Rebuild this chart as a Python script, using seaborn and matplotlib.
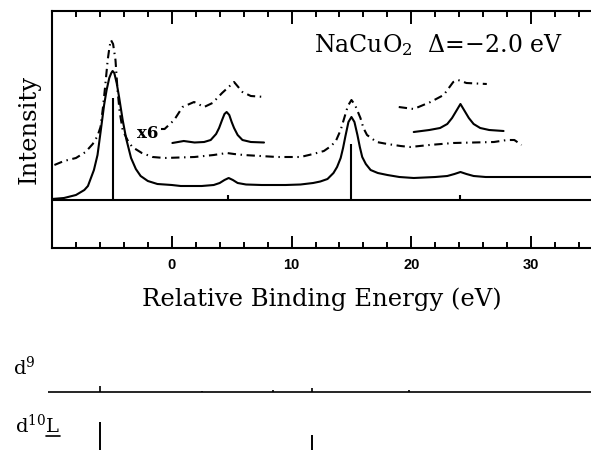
import numpy as np
import pandas as pd
import matplotlib
matplotlib.use("Agg")
import matplotlib.pyplot as plt
import seaborn as sns
from matplotlib.ticker import MultipleLocator
from matplotlib.lines import Line2D

# ---------------- data ----------------
# main solid spectrum
solid_x = [-10, -9, -8, -7.3, -7.0, -6.5, -6.2, -5.9, -5.65, -5.44, -5.22, -5.05, -4.94,
           -4.8, -4.6, -4.4, -4.1, -3.8, -3.4, -3.0, -2.6, -2.0, -1.2, 0, 0.75, 2.5, 3.5,
           4.0, 4.4, 4.75, 5.1, 5.5, 6.2, 7.5, 9.5, 10.75, 11.8, 12.4, 13.0, 13.5, 13.8,
           14.1, 14.3, 14.5, 14.75, 15.0, 15.25, 15.5, 15.7, 15.9, 16.2, 16.6, 17.2, 18,
           19, 20.2, 22, 23.0, 23.6, 24.1, 24.6, 25.2, 26.2, 30, 35]
solid_y = [1, 2, 5, 10, 14, 30, 45, 72, 95, 110, 122, 127, 129,
           127, 117, 103, 80, 61, 42, 31, 24, 19, 16, 15, 14, 14, 15,
           17, 20, 22, 20, 17, 15.5, 15, 15, 15.5, 17, 18.5, 21, 27, 33,
           42, 52, 64, 78, 83, 78, 65, 53, 43, 36, 30, 27, 25,
           23, 22, 23, 24, 26, 28, 26, 24, 23, 23, 23]
# main dash-dot spectrum
dash_x = [-9.8, -9, -8, -7.2, -6.6, -6.2, -5.95, -5.75, -5.55, -5.35, -5.2, -5.08, -4.9,
          -4.7, -4.53, -4.35, -4.1, -3.7, -3.3, -2.5, -1.6, -0.6, 1.9, 3.5, 4.6, 5.2,
          6.0, 8.8, 10.75, 11.8, 12.7, 13.3, 13.7, 14.1, 14.4, 14.7, 15.0, 15.3, 15.75,
          16.0, 16.3, 17.1, 18, 19.1, 19.9, 21.5, 23.5, 26.9, 28.0, 28.6, 29.2]
dash_y = [35, 39, 42, 48, 56, 64, 73, 92, 115, 140, 153, 160, 156,
          140, 110, 88, 70, 60, 53, 47, 43, 42, 43, 45, 47, 46,
          45, 43, 43, 46, 49, 54, 59, 70, 82, 94, 100, 95, 82,
          72, 65, 58, 56, 54, 53, 55, 57, 58, 60, 60, 55]
# x6 insets
inset1_solid_x = [0.05, 1.0, 1.9, 2.7, 3.25, 3.7, 3.95, 4.2, 4.4, 4.58, 4.8, 5.0, 5.2,
                  5.5, 5.9, 6.6, 7.7]
inset1_solid_y = [57, 59, 57.5, 58, 60, 66, 72, 80, 86, 88, 85, 78, 72,
                  65, 60, 58, 57.5]
inset1_dash_x = [-0.9, -0.6, 0.2, 0.9, 1.86, 2.7, 3.4, 4.2, 5.2, 5.9, 6.6, 7.8]
inset1_dash_y = [71, 71, 80, 93, 98, 93, 97, 107, 118, 108, 104, 103]
inset2_solid_x = [20.2, 21.5, 22.4, 23.0, 23.4, 23.8, 24.1, 24.4, 24.8, 25.2, 25.75,
                  26.5, 27.7]
inset2_solid_y = [68, 70, 72, 76, 82, 90, 96, 90, 82, 76, 72, 70, 69]
inset2_dash_x = [18.95, 20.2, 21.6, 22.7, 23.5, 23.9, 24.6, 26.3]
inset2_dash_y = [93, 91, 98, 105, 118, 120, 117, 116]
# final-state sticks
stick_x = [-4.9, 4.7, 15.0, 24.1]
stick_h = [102, 5, 56, 5]
# configuration weights (lower panel)
d9_x = [-4.9, 4.7, 11.4, 15.0, 24.1]
d9_h = [6, 1.5, 2, 4, 2]
d10L_x = [-4.9, 15.0]
d10L_h = [48, 35]
xticks = [0, 10, 20, 30]

# ---------------- style ----------------
sns.set_theme(style="white")
plt.rcParams['font.family'] = ['DejaVu Serif']
plt.rcParams['mathtext.fontset'] = 'dejavuserif'
plt.rcParams['text.color'] = 'black'
plt.rcParams['axes.labelcolor'] = 'black'
plt.rcParams['xtick.color'] = 'black'

W, H = 591, 450
fig = plt.figure(figsize=(W / 100, H / 100), dpi=100)
fig.patch.set_facecolor('white')
ax = fig.add_axes([52 / W, (H - 248) / H, (W - 52) / W, 237 / H])
ax.set_facecolor('white')

LW = 1.5
DD = (0, (4.0, 2.2, 0.7, 2.2))

def draw(x, y, ls):
    sns.lineplot(x=x, y=y, ax=ax, color='black', lw=LW, linestyle=ls,
                 sort=False, estimator=None)

draw(solid_x, solid_y, '-')
draw(dash_x, dash_y, DD)
draw(inset1_solid_x, inset1_solid_y, '-')
draw(inset1_dash_x, inset1_dash_y, DD)
draw(inset2_solid_x, inset2_solid_y, '-')
draw(inset2_dash_x, inset2_dash_y, DD)

ax.axhline(0, color='black', lw=LW)
ax.vlines(stick_x, 0, stick_h, color='black', lw=LW)

ax.set_xlim(-10, 35)
ax.set_ylim(-48, 189)
ax.set_xticks(xticks)
ax.xaxis.set_minor_locator(MultipleLocator(2))
ax.set_yticks([])
ax.tick_params(axis='x', which='both', direction='in', top=True, bottom=True,
               color='black', width=1.4)
ax.tick_params(axis='x', which='major', length=9, pad=7)
ax.tick_params(axis='x', which='minor', length=4)
for lab in ax.get_xticklabels():
    lab.set_fontfamily('Liberation Sans')
    lab.set_fontweight('bold')
    lab.set_fontsize(10.5)
for s in ['left', 'top', 'bottom']:
    ax.spines[s].set_color('black')
    ax.spines[s].set_linewidth(LW)
ax.spines['right'].set_visible(False)

ax.set_xlabel('Relative Binding Energy (eV)', fontsize=17.5, labelpad=11)
ax.set_ylabel('Intensity', fontsize=17.5, labelpad=8)
ax.text(22.25, 155, r'NaCuO$_2$  $\Delta$=−2.0 eV', fontsize=17,
        ha='center', va='center')
ax.text(-2.0, 67, 'x6', fontsize=12, fontweight='bold', ha='center', va='center')

# ---------------- lower panel ----------------
ax2 = fig.add_axes([48 / W, (H - 470) / H, (W - 48) / W, 90 / H])
ax2.set_xlim(-9.8, 41.25)
ax2.set_ylim(0, 90)
ax2.axis('off')
ax2.axhline(78, color='black', lw=1.2)
ax2.vlines(d9_x, 78, [78 + h for h in d9_h], color='black', lw=1.2)
ax2.vlines(d10L_x, 0, d10L_h, color='black', lw=1.4)

fig.text(13 / W, 1 - 375 / H, r'd$^{9}$', fontsize=14, va='baseline', ha='left')
fig.text(15 / W, 1 - 433 / H, r'd$^{10}$L', fontsize=14, va='baseline', ha='left')
fig.add_artist(Line2D([46 / W, 60 / W], [1 - 436 / H, 1 - 436 / H],
                      transform=fig.transFigure, color='black', lw=1.2))

fig.savefig('out.png', dpi=100, facecolor='white')
